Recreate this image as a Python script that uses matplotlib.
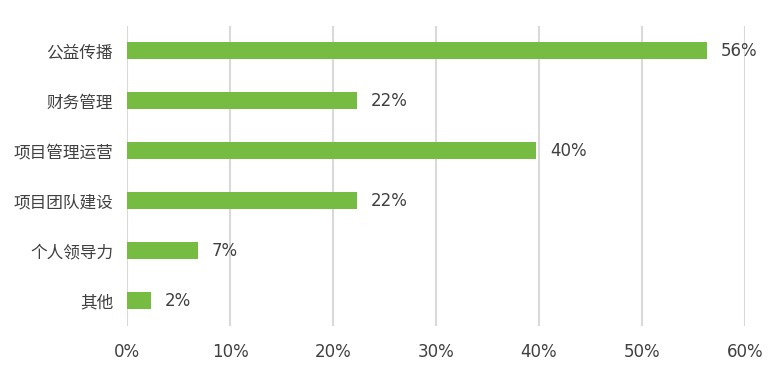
import numpy as np
import matplotlib.pyplot as plt

plt.rcParams['font.family'] = ['DejaVu Sans', 'Noto Sans CJK SC']

# 数据
categories = ['公益传播', '财务管理', '项目管理运营', '项目团队建设', '个人领导力', '其他']
values = [56.3, 22.3, 39.7, 22.3, 6.9, 2.3]
labels = ['56%', '22%', '40%', '22%', '7%', '2%']
xticks = [0, 10, 20, 30, 40, 50, 60]

text_color = '#404040'
bar_color = '#76BC43'

fig = plt.figure(figsize=(7.73, 3.71), dpi=100)
ax = fig.add_axes([0.1643, 0.1213, 0.7995, 0.8087])

y = np.arange(len(categories))
ax.barh(y, values, height=0.34, color=bar_color, zorder=3)

for yi, v, lab in zip(y, values, labels):
    ax.annotate(lab, (v, yi), xytext=(10, 0), textcoords='offset points',
                ha='left', va='center', fontsize=12, color=text_color)

ax.set_xlim(0, 60)
ax.set_ylim(len(categories) - 0.5, -0.5)
ax.set_yticks(y)
ax.set_yticklabels(categories, fontsize=12, color=text_color,
                   family=['Noto Sans CJK SC', 'DejaVu Sans'])
ax.set_xticks(xticks)
ax.set_xticklabels([f'{t}%' for t in xticks], fontsize=12, color=text_color)
ax.tick_params(axis='both', length=0)
ax.tick_params(axis='y', pad=10)
ax.tick_params(axis='x', pad=12)

ax.grid(axis='x', color='#d9d9d9', linewidth=1.5, zorder=0)
for s in ax.spines.values():
    s.set_visible(False)

fig.savefig('out.png', dpi=100)
